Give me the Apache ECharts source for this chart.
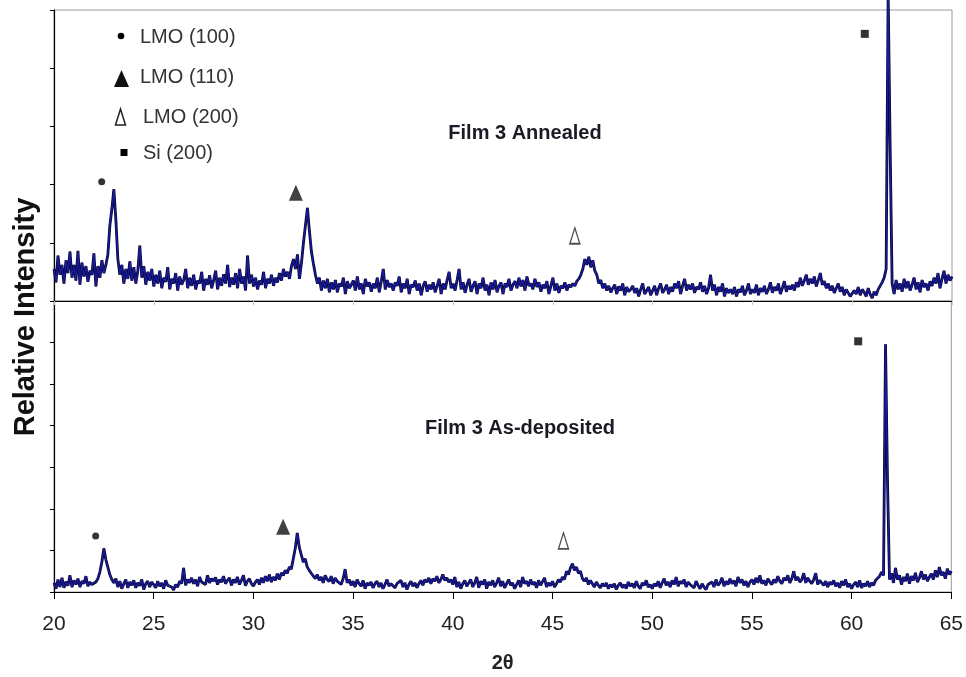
<!DOCTYPE html>
<html>
<head>
<meta charset="utf-8">
<script src="https://cdn.jsdelivr.net/npm/echarts@6/dist/echarts.min.js"></script>
<style>html,body{margin:0;padding:0;background:#fff;}#chart{width:966px;height:677px;}</style>
</head>
<body>
<div id="chart"></div>
<script>
// ---- data ----
var X_START = 20, X_STEP = 0.1;            // 2θ sampling of the patterns
var xMin = 20, xMax = 65, xInterval = 5;   // x axis ticks 20..65
var topYMax = 5, bottomYMax = 7;           // relative-intensity scales (arb. units)

// Film 3 Annealed, 2θ = 20.0 ... 65.0 step 0.1
var annealed = [
0.55,0.32,0.78,0.45,0.62,0.30,0.70,0.48,0.85,0.40,
0.62,0.35,0.86,0.28,0.66,0.42,0.60,0.33,0.52,0.45,
0.82,0.25,0.60,0.40,0.70,0.48,0.62,0.80,1.30,1.58,
1.92,1.40,0.72,0.45,0.62,0.30,0.55,0.38,0.68,0.35,
0.58,0.30,0.52,0.95,0.40,0.60,0.28,0.50,0.35,0.55,
0.25,0.45,0.30,0.52,0.22,0.40,0.33,0.58,0.20,0.38,
0.30,0.48,0.18,0.42,0.28,0.36,0.55,0.22,0.40,0.26,
0.45,0.20,0.35,0.30,0.50,0.18,0.38,0.28,0.44,0.22,
0.36,0.52,0.20,0.40,0.26,0.46,0.30,0.62,0.24,0.40,
0.28,0.48,0.22,0.55,0.30,0.42,0.18,0.78,0.30,0.45,
0.25,0.40,0.20,0.35,0.28,0.50,0.22,0.38,0.30,0.45,
0.26,0.40,0.32,0.48,0.35,0.55,0.42,0.50,0.38,0.60,
0.72,0.55,0.80,0.38,0.65,1.00,1.30,1.60,1.20,0.85,
0.64,0.45,0.30,0.40,0.18,0.35,0.22,0.38,0.15,0.32,
0.20,0.36,0.15,0.30,0.25,0.40,0.12,0.34,0.22,0.28,
0.35,0.18,0.42,0.20,0.30,0.12,0.38,0.25,0.32,0.16,
0.30,0.22,0.40,0.15,0.34,0.55,0.20,0.36,0.24,0.30,
0.18,0.32,0.26,0.42,0.15,0.30,0.22,0.38,0.12,0.28,
0.24,0.35,0.18,0.30,0.10,0.26,0.34,0.16,0.28,0.20,
0.32,0.15,0.26,0.38,0.12,0.30,0.20,0.36,0.50,0.22,
0.30,0.18,0.36,0.55,0.20,0.32,0.14,0.28,0.38,0.16,
0.26,0.34,0.12,0.30,0.22,0.40,0.18,0.28,0.10,0.32,
0.20,0.36,0.15,0.26,0.32,0.12,0.30,0.24,0.38,0.18,
0.28,0.34,0.22,0.40,0.25,0.36,0.18,0.42,0.26,0.30,
0.20,0.38,0.24,0.32,0.16,0.28,0.22,0.34,0.12,0.26,
0.40,0.18,0.30,0.14,0.26,0.22,0.32,0.18,0.28,0.24,
0.30,0.26,0.34,0.38,0.45,0.55,0.72,0.62,0.76,0.58,
0.70,0.52,0.45,0.30,0.36,0.22,0.30,0.18,0.26,0.15,
0.22,0.28,0.12,0.25,0.18,0.30,0.10,0.24,0.16,0.20,
0.26,0.14,0.22,0.08,0.20,0.30,0.12,0.18,0.24,0.10,
0.18,0.26,0.10,0.22,0.30,0.14,0.20,0.28,0.12,0.24,
0.16,0.30,0.22,0.34,0.12,0.26,0.38,0.18,0.28,0.20,
0.30,0.14,0.24,0.20,0.32,0.16,0.26,0.12,0.22,0.45,
0.18,0.28,0.10,0.24,0.16,0.30,0.08,0.22,0.14,0.20,
0.12,0.24,0.08,0.20,0.15,0.26,0.10,0.18,0.30,0.12,
0.20,0.14,0.28,0.10,0.22,0.16,0.26,0.12,0.20,0.32,
0.14,0.24,0.18,0.30,0.12,0.22,0.34,0.16,0.26,0.20,
0.28,0.18,0.32,0.24,0.40,0.26,0.35,0.45,0.28,0.38,
0.30,0.42,0.25,0.36,0.48,0.28,0.34,0.22,0.30,0.18,
0.26,0.14,0.22,0.30,0.16,0.24,0.10,0.20,0.14,0.08,
0.05,0.18,0.12,0.24,0.10,0.20,0.15,0.08,0.22,0.12,
0.05,0.16,0.10,0.20,0.18,0.32,0.40,0.55,5.30,2.65,
0.30,0.12,0.36,0.20,0.30,0.16,0.38,0.22,0.34,0.18,
0.28,0.40,0.20,0.32,0.15,0.36,0.24,0.30,0.18,0.34,
0.26,0.40,0.30,0.48,0.22,0.38,0.52,0.30,0.45,0.35,
0.42
];

// Film 3 As-deposited, 2θ = 20.0 ... 65.0 step 0.1
var asDeposited = [
0.22,0.08,0.30,0.12,0.34,0.10,0.25,0.15,0.40,0.12,
0.28,0.18,0.32,0.12,0.26,0.20,0.38,0.14,0.24,0.18,
0.15,0.24,0.32,0.48,0.72,1.05,0.78,0.60,0.42,0.30,
0.22,0.32,0.12,0.26,0.08,0.20,0.30,0.10,0.24,0.16,
0.28,0.10,0.22,0.15,0.30,0.06,0.20,0.26,0.12,0.24,
0.18,0.10,0.26,0.14,0.22,0.08,0.28,0.16,0.20,0.12,
0.05,0.18,0.12,0.26,0.20,0.58,0.16,0.30,0.22,0.34,
0.20,0.30,0.14,0.36,0.24,0.28,0.18,0.40,0.22,0.32,
0.26,0.35,0.18,0.30,0.24,0.38,0.20,0.28,0.34,0.16,
0.30,0.22,0.36,0.18,0.28,0.40,0.15,0.26,0.32,0.20,
0.14,0.24,0.30,0.18,0.34,0.22,0.38,0.26,0.42,0.24,
0.36,0.28,0.44,0.30,0.46,0.40,0.52,0.45,0.60,0.55,
0.80,1.05,1.42,1.08,0.90,0.72,0.80,0.60,0.52,0.45,
0.48,0.32,0.42,0.28,0.36,0.22,0.40,0.30,0.25,0.38,
0.20,0.34,0.26,0.30,0.18,0.32,0.55,0.22,0.30,0.16,
0.26,0.12,0.30,0.20,0.14,0.28,0.08,0.22,0.16,0.24,
0.10,0.20,0.26,0.12,0.22,0.08,0.18,0.30,0.14,0.20,
0.24,0.10,0.20,0.16,0.28,0.12,0.22,0.06,0.18,0.26,
0.14,0.22,0.10,0.20,0.28,0.16,0.30,0.24,0.34,0.20,
0.32,0.26,0.38,0.22,0.30,0.42,0.28,0.34,0.24,0.30,
0.18,0.36,0.12,0.24,0.08,0.20,0.28,0.14,0.22,0.30,
0.12,0.22,0.36,0.10,0.26,0.18,0.30,0.08,0.24,0.16,
0.28,0.12,0.22,0.34,0.14,0.26,0.10,0.20,0.30,0.16,
0.22,0.08,0.18,0.28,0.12,0.36,0.20,0.26,0.14,0.30,
0.18,0.24,0.10,0.28,0.16,0.20,0.34,0.12,0.22,0.15,
0.26,0.12,0.20,0.30,0.24,0.36,0.30,0.50,0.42,0.58,
0.68,0.52,0.60,0.45,0.50,0.32,0.26,0.34,0.18,0.28,
0.20,0.12,0.24,0.16,0.10,0.20,0.14,0.22,0.08,0.18,
0.12,0.20,0.06,0.16,0.22,0.10,0.18,0.08,0.24,0.14,
0.20,0.10,0.26,0.14,0.08,0.22,0.16,0.28,0.12,0.18,
0.08,0.20,0.14,0.26,0.10,0.22,0.32,0.16,0.24,0.12,
0.28,0.18,0.36,0.14,0.26,0.20,0.30,0.12,0.24,0.18,
0.22,0.10,0.26,0.16,0.08,0.20,0.12,0.06,0.18,0.14,
0.24,0.12,0.30,0.16,0.22,0.34,0.14,0.26,0.18,0.32,
0.20,0.28,0.14,0.36,0.22,0.30,0.16,0.26,0.12,0.24,
0.30,0.18,0.34,0.22,0.40,0.20,0.28,0.16,0.32,0.24,
0.18,0.30,0.22,0.38,0.26,0.20,0.34,0.28,0.40,0.22,
0.32,0.50,0.28,0.36,0.24,0.30,0.45,0.22,0.34,0.26,
0.20,0.30,0.45,0.18,0.28,0.22,0.16,0.26,0.12,0.24,
0.18,0.28,0.14,0.22,0.10,0.26,0.16,0.30,0.12,0.20,
0.08,0.18,0.24,0.12,0.28,0.10,0.20,0.14,0.26,0.12,
0.22,0.16,0.28,0.24,0.38,0.48,0.40,5.96,2.65,0.30,
0.45,0.22,0.58,0.30,0.40,0.18,0.36,0.26,0.44,0.20,
0.38,0.28,0.46,0.24,0.34,0.50,0.30,0.42,0.26,0.36,
0.44,0.30,0.52,0.36,0.60,0.40,0.48,0.32,0.56,0.42,
0.50
];

// phase markers placed above the peaks
var phaseNames   = ['LMO (100)', 'LMO (110)', 'LMO (200)', 'Si (200)'];
var topMarkX     = [22.39, 32.12, 46.10, 60.63];
var topMarkY     = [2.05, 1.86, 1.12, 4.59];
var bottomMarkX  = [22.09, 31.49, 45.55, 60.33];
var bottomMarkY  = [1.35, 1.57, 1.23, 6.03];
var panelTitles  = ['Film 3 Annealed', 'Film 3 As-deposited'];

// ---- build ----
var FONT = "'Liberation Sans', Arial, sans-serif";
function toPairs(arr) {
  return arr.map(function (v, i) { return [+(X_START + i * X_STEP).toFixed(2), v]; });
}
var markerStyles = [
  { symbol: 'circle',   symbolSize: 7,        itemStyle: { color: '#000' } },
  { symbol: 'triangle', symbolSize: [14, 16], itemStyle: { color: '#111' } },
  { symbol: 'triangle', symbolSize: [10, 16], itemStyle: { color: '#fff', borderColor: '#222', borderWidth: 1.5 } },
  { symbol: 'rect',     symbolSize: 8,        itemStyle: { color: '#000' } }
];
function markerSeries(xs, ys, axisIdx) {
  return phaseNames.map(function (name, k) {
    var s = markerStyles[k];
    return {
      type: 'scatter', name: name, xAxisIndex: axisIdx, yAxisIndex: axisIdx,
      symbol: s.symbol, symbolSize: s.symbolSize, symbolKeepAspect: false,
      itemStyle: s.itemStyle, silent: true, z: 5,
      data: [[xs[k], ys[k]]]
    };
  });
}
function patternSeries(name, arr, idx, clip) {
  var d = toPairs(arr);
  return [
    { type: 'line', name: name, xAxisIndex: idx, yAxisIndex: idx, data: d, clip: clip,
      showSymbol: false, silent: true, z: 2, lineStyle: { color: '#05052a', width: 2.8 } },
    { type: 'line', name: name, xAxisIndex: idx, yAxisIndex: idx, data: d, clip: clip,
      showSymbol: false, silent: true, z: 3, lineStyle: { color: '#1a1aa0', width: 1.4 } }
  ];
}

var series = patternSeries(panelTitles[0], annealed, 0, false)
  .concat(patternSeries(panelTitles[1], asDeposited, 1, true))
  .concat(markerSeries(topMarkX, topMarkY, 0))
  .concat(markerSeries(bottomMarkX, bottomMarkY, 1));

var legendY = [37, 77, 117, 153];
var legendTextX = [140, 140, 143, 143];
var graphics = [
  { type: 'circle', shape: { cx: 121, cy: 36, r: 3.3 }, style: { fill: '#000' } },
  { type: 'polygon', shape: { points: [[114, 87], [121.5, 70], [129, 87]] }, style: { fill: '#111' } },
  { type: 'polygon', shape: { points: [[115.5, 125], [120.5, 109], [125.5, 125]] }, style: { fill: 'none', stroke: '#222', lineWidth: 1.5 } },
  { type: 'rect', shape: { x: 120.5, y: 149, width: 7, height: 7 }, style: { fill: '#000' } },
  { type: 'text', x: 26, y: 317, rotation: Math.PI / 2,
    style: { text: 'Relative Intensity', fill: '#111', font: 'bold 29px ' + FONT, textAlign: 'center', textVerticalAlign: 'middle' } },
  { type: 'text', x: 525, y: 133, style: { text: panelTitles[0], fill: '#1a1a24', font: 'bold 20px ' + FONT, textAlign: 'center', textVerticalAlign: 'middle' } },
  { type: 'text', x: 520, y: 428, style: { text: panelTitles[1], fill: '#1a1a24', font: 'bold 20px ' + FONT, textAlign: 'center', textVerticalAlign: 'middle' } }
];
phaseNames.forEach(function (n, k) {
  graphics.push({ type: 'text', x: legendTextX[k], y: legendY[k],
    style: { text: n, fill: '#333', font: '20px ' + FONT, textAlign: 'left', textVerticalAlign: 'middle' } });
});

var chart = echarts.init(document.getElementById('chart'), null, { renderer: 'canvas' });
chart.setOption({
  animation: false,
  backgroundColor: '#fff',
  textStyle: { fontFamily: FONT },
  grid: [
    { left: 54, right: 14, top: 10, height: 291, show: true, borderColor: '#999', borderWidth: 1, backgroundColor: 'transparent' },
    { left: 54, right: 14, top: 301, height: 291, show: true, borderColor: '#999', borderWidth: 1, backgroundColor: 'transparent' }
  ],
  xAxis: [
    { type: 'value', gridIndex: 0, min: xMin, max: xMax, interval: xInterval,
      axisLine: { lineStyle: { color: '#000', width: 1.2 } },
      axisTick: { show: true, length: 4, lineStyle: { color: '#ccc' } },
      axisLabel: { show: false }, splitLine: { show: false } },
    { type: 'value', gridIndex: 1, min: xMin, max: xMax, interval: xInterval,
      name: '2θ', nameLocation: 'middle', nameGap: 61,
      nameTextStyle: { fontSize: 20, fontWeight: 'bold', color: '#222', fontFamily: FONT },
      axisLine: { lineStyle: { color: '#000', width: 1.2 } },
      axisTick: { show: true, length: 7, lineStyle: { color: '#000' } },
      axisLabel: { fontSize: 21, color: '#222', margin: 22, fontFamily: FONT },
      splitLine: { show: false } }
  ],
  yAxis: [
    { type: 'value', gridIndex: 0, min: 0, max: topYMax, interval: 1,
      axisLine: { show: true, lineStyle: { color: '#000', width: 1.2 } },
      axisTick: { show: true, length: 4, lineStyle: { color: '#000' } },
      axisLabel: { show: false }, splitLine: { show: false } },
    { type: 'value', gridIndex: 1, min: 0, max: bottomYMax, interval: 1,
      axisLine: { show: true, lineStyle: { color: '#000', width: 1.2 } },
      axisTick: { show: true, length: 4, lineStyle: { color: '#000' } },
      axisLabel: { show: false }, splitLine: { show: false } }
  ],
  series: series,
  graphic: graphics
});
</script>
</body>
</html>
